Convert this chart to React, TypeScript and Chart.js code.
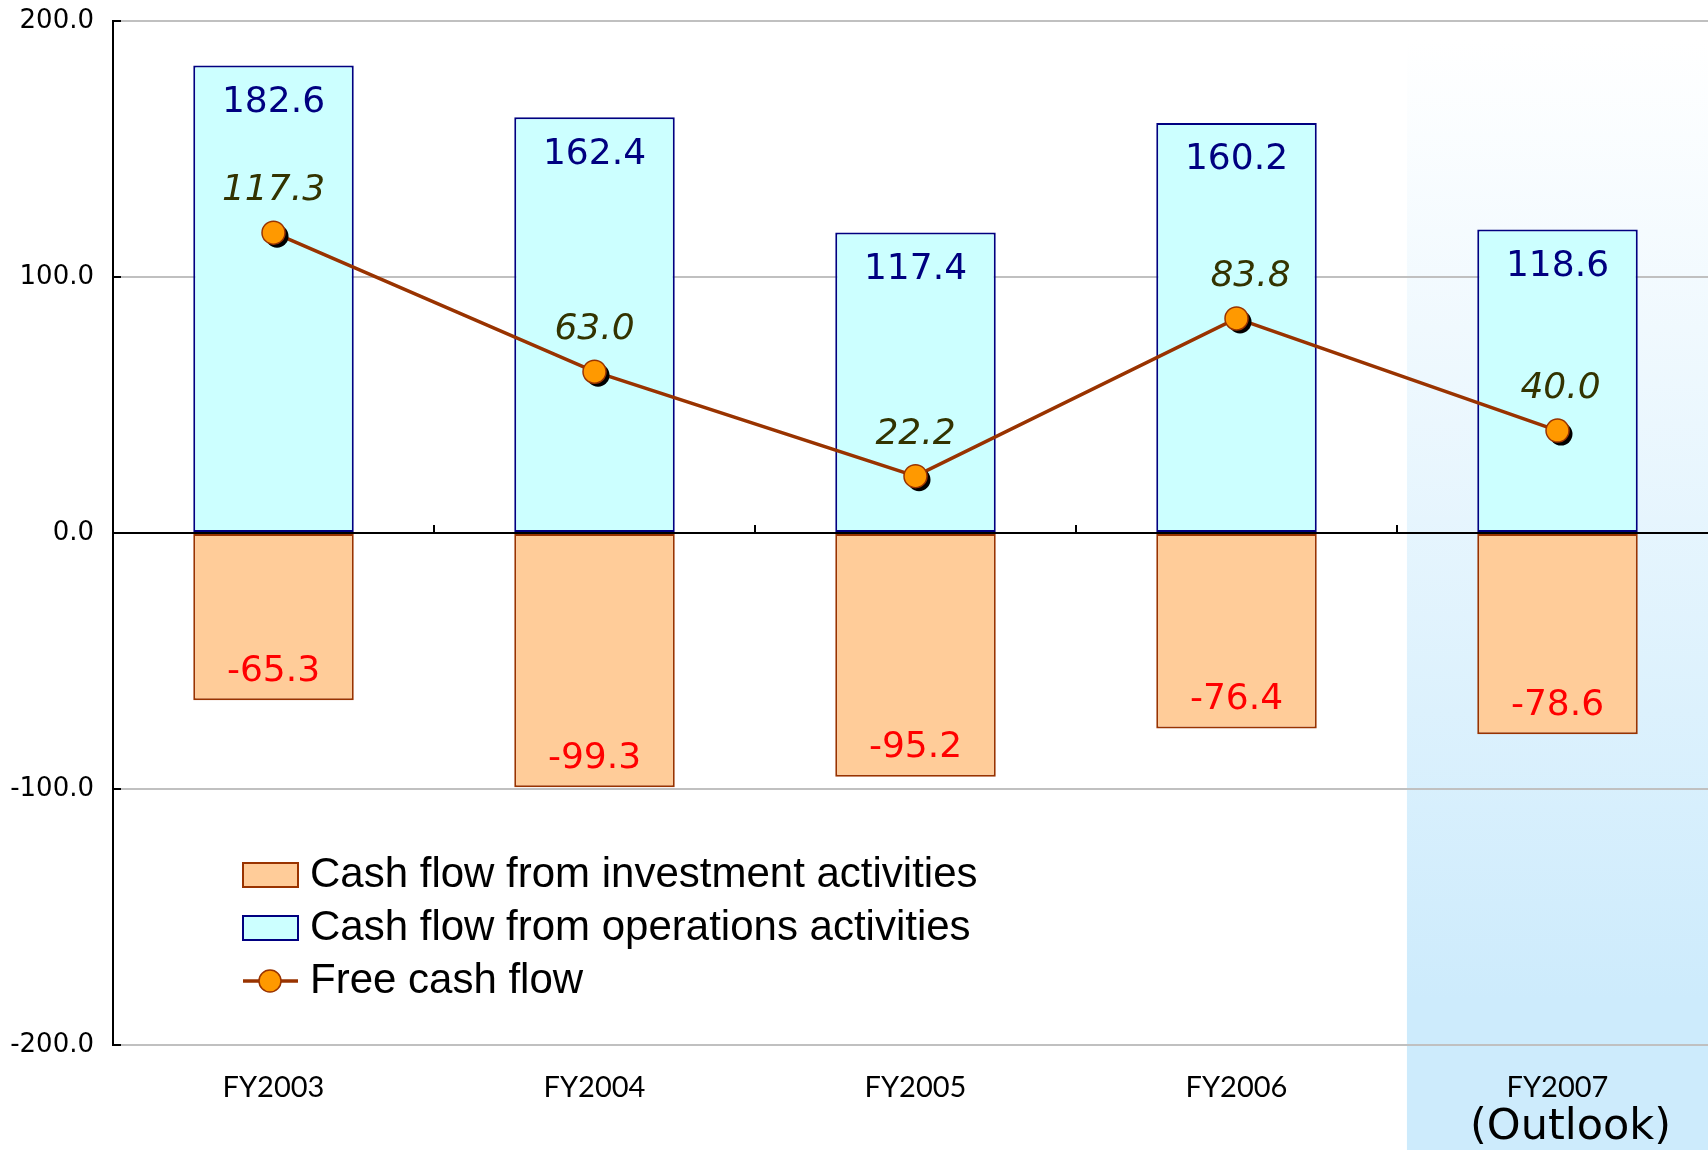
import React, { useEffect, useRef } from "react";
import { Chart, registerables } from "chart.js";

Chart.register(...registerables);

const categories = ["FY2003", "FY2004", "FY2005", "FY2006", "FY2007"];
const operationsCF = [182.6, 162.4, 117.4, 160.2, 118.6];
const investmentCF = [-65.3, -99.3, -95.2, -76.4, -78.6];
const freeCF = [117.3, 63.0, 22.2, 83.8, 40.0];
const yTickValues = [-200, -100, 0, 100, 200];
const outlookNote = "(Outlook)";
const legendInvestment = "Cash flow from investment activities";
const legendOperations = "Cash flow from operations activities";
const legendFree = "Free cash flow";

const fcfLabelNudge = [0, 0, 0, 14, 3];

const decorPlugin = {
  id: "decor",
  beforeDraw(chart: any) {
    const { ctx } = chart;
    const xs = chart.scales.x;
    const cw = xs.getPixelForValue(1) - xs.getPixelForValue(0);
    const left = xs.getPixelForValue(4) - cw * 0.469;
    const g = ctx.createLinearGradient(0, 40, 0, 1000);
    g.addColorStop(0, "#FFFFFF");
    g.addColorStop(1, "#CDEBFC");
    ctx.save();
    ctx.fillStyle = g;
    ctx.fillRect(left, 0, chart.width - left, chart.height);
    ctx.restore();
  },
  beforeDatasetDraw(chart: any, args: any) {
    if (args.index !== 3) return;
    const { ctx } = chart;
    const meta = chart.getDatasetMeta(3);
    ctx.save();
    ctx.fillStyle = "#000000";
    meta.data.forEach((el: any) => {
      ctx.beginPath();
      ctx.arc(el.x + 3.5, el.y + 3.5, 11.5, 0, Math.PI * 2);
      ctx.fill();
    });
    ctx.restore();
  },
  afterDatasetsDraw(chart: any) {
    const { ctx, chartArea } = chart;
    const xs = chart.scales.x;
    const ys = chart.scales.y;
    const y0 = ys.getPixelForValue(0);
    ctx.save();
    // zero line
    ctx.strokeStyle = "#000000";
    ctx.lineWidth = 2;
    ctx.beginPath();
    ctx.moveTo(chartArea.left, y0);
    ctx.lineTo(chartArea.right, y0);
    ctx.stroke();
    // category ticks
    for (let i = 0; i < categories.length - 1; i++) {
      const x = (xs.getPixelForValue(i) + xs.getPixelForValue(i + 1)) / 2;
      ctx.beginPath();
      ctx.moveTo(x, y0);
      ctx.lineTo(x, y0 - 8);
      ctx.stroke();
    }
    // y inner ticks
    yTickValues.forEach((v) => {
      const y = ys.getPixelForValue(v);
      ctx.beginPath();
      ctx.moveTo(chartArea.left, y);
      ctx.lineTo(chartArea.left + 8, y);
      ctx.stroke();
    });

    // value labels
    ctx.textAlign = "center";
    ctx.textBaseline = "middle";
    const opMeta = chart.getDatasetMeta(0);
    ctx.font = '36px "DejaVu Sans"';
    ctx.fillStyle = "#000080";
    opMeta.data.forEach((el: any, i: number) => {
      ctx.fillText(operationsCF[i].toFixed(1), el.x, el.y + 37);
    });
    const invMeta = chart.getDatasetMeta(1);
    ctx.fillStyle = "#FF0000";
    invMeta.data.forEach((el: any, i: number) => {
      ctx.fillText(investmentCF[i].toFixed(1), el.x, el.y - 29);
    });
    const fMeta = chart.getDatasetMeta(3);
    ctx.font = 'italic 36px "DejaVu Sans"';
    ctx.fillStyle = "#333300";
    fMeta.data.forEach((el: any, i: number) => {
      ctx.fillText(freeCF[i].toFixed(1), el.x + fcfLabelNudge[i], el.y - 42);
    });

    // outlook note
    ctx.font = '43px "DejaVu Sans"';
    ctx.fillStyle = "#000000";
    ctx.fillText(outlookNote, xs.getPixelForValue(4) + 13, 1128);

    // legend
    const lx = 243;
    const rows = [875, 928, 981];
    ctx.lineWidth = 2;
    ctx.fillStyle = "#FFCC99";
    ctx.strokeStyle = "#993300";
    ctx.fillRect(lx, rows[0] - 12, 55, 24);
    ctx.strokeRect(lx, rows[0] - 12, 55, 24);
    ctx.fillStyle = "#CCFFFF";
    ctx.strokeStyle = "#000080";
    ctx.fillRect(lx, rows[1] - 12, 55, 24);
    ctx.strokeRect(lx, rows[1] - 12, 55, 24);
    ctx.strokeStyle = "#993300";
    ctx.lineWidth = 3.5;
    ctx.beginPath();
    ctx.moveTo(lx, rows[2]);
    ctx.lineTo(lx + 55, rows[2]);
    ctx.stroke();
    ctx.beginPath();
    ctx.arc(lx + 27, rows[2], 11, 0, Math.PI * 2);
    ctx.fillStyle = "#FF9900";
    ctx.fill();
    ctx.lineWidth = 1.5;
    ctx.stroke();

    ctx.fillStyle = "#000000";
    ctx.textAlign = "left";
    ctx.font = '42px "Liberation Sans"';
    ctx.fillText(legendInvestment, 310, rows[0]);
    ctx.fillText(legendOperations, 310, rows[1]);
    ctx.fillText(legendFree, 310, rows[2]);
    ctx.restore();
  },
};

export default function App() {
  const canvasRef = useRef<HTMLCanvasElement | null>(null);

  useEffect(() => {
    if (!canvasRef.current) return;
    const chart = new Chart(canvasRef.current, {
      type: "bar",
      data: {
        labels: categories,
        datasets: [
          {
            type: "bar",
            label: legendOperations,
            data: operationsCF,
            backgroundColor: "#CCFFFF",
            borderColor: "#000080",
            borderWidth: 2,
            borderSkipped: false,
            grouped: false,
            barPercentage: 0.5,
            categoryPercentage: 1,
            order: 3,
          } as any,
          {
            type: "bar",
            label: legendInvestment,
            data: investmentCF,
            backgroundColor: "#FFCC99",
            borderColor: "#993300",
            borderWidth: 2,
            borderSkipped: false,
            grouped: false,
            barPercentage: 0.5,
            categoryPercentage: 1,
            order: 2,
          } as any,
          {
            type: "line",
            label: legendFree,
            data: freeCF,
            borderColor: "#993300",
            borderWidth: 3.5,
            pointRadius: 0,
            order: 1,
          } as any,
          {
            type: "line",
            label: "markers",
            data: freeCF,
            showLine: false,
            pointRadius: 11.5,
            pointBackgroundColor: "#FF9900",
            pointBorderColor: "#993300",
            pointBorderWidth: 1.5,
            order: 0,
          } as any,
        ],
      },
      options: {
        animation: false,
        responsive: false,
        maintainAspectRatio: false,
        devicePixelRatio: 1,
        layout: {
          autoPadding: false,
          padding: { top: 21, right: 2, left: 0, bottom: 0 },
        },
        plugins: {
          legend: { display: false },
          tooltip: { enabled: false },
        },
        scales: {
          x: {
            grid: { display: false, drawTicks: false },
            border: { display: false },
            ticks: {
              font: { family: "Lato", size: 29 },
              color: "#000000",
              padding: 25,
            },
            afterFit: (s: any) => {
              s.height = 105;
            },
          },
          y: {
            min: -200,
            max: 200,
            afterBuildTicks: (s: any) => {
              s.ticks = yTickValues.map((v) => ({ value: v }));
            },
            ticks: {
              callback: (v: any) => Number(v).toFixed(1),
              font: { family: "DejaVu Sans", size: 26 },
              color: "#000000",
              padding: 19,
            },
            grid: { color: "#C0C0C0", lineWidth: 2, drawTicks: false },
            border: { display: true, color: "#000000", width: 2 },
            afterFit: (s: any) => {
              s.width = 113;
              s.paddingTop = 0;
              s.paddingBottom = 0;
            },
          },
        },
      } as any,
      plugins: [decorPlugin],
    });
    return () => chart.destroy();
  }, []);

  return (
    <div
      style={{
        position: "fixed",
        left: 0,
        top: 0,
        width: 1708,
        height: 1150,
        overflow: "hidden",
        background: "#FFFFFF",
      }}
    >
      <canvas
        ref={canvasRef}
        width={1720}
        height={1150}
        style={{ display: "block", width: 1720, height: 1150 }}
      />
    </div>
  );
}
